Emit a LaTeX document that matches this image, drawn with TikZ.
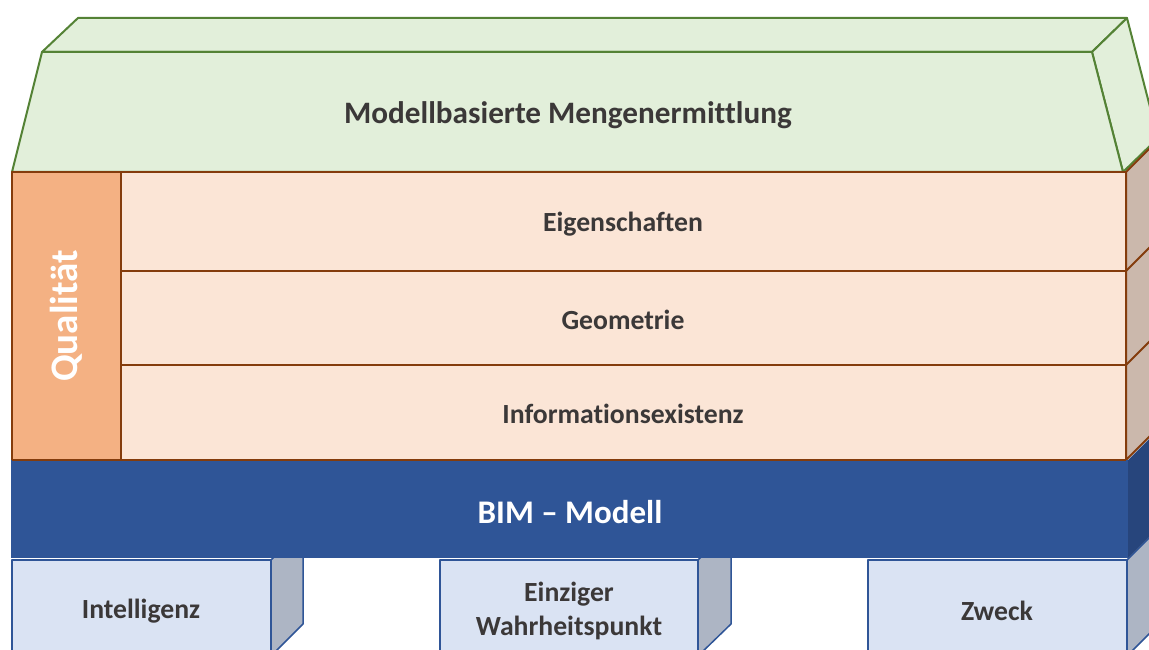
\documentclass[tikz,border=0pt]{standalone}
\usepackage{fontspec}
\setmainfont[Ligatures=NoCommon]{Carlito}
\definecolor{roofFill}{HTML}{E2EFDA}
\definecolor{roofLine}{HTML}{548235}
\definecolor{qualFill}{HTML}{F4B183}
\definecolor{layerFill}{HTML}{FBE5D6}
\definecolor{layerSide}{HTML}{CBB8AC}
\definecolor{layerLine}{HTML}{843C0C}
\definecolor{bimFill}{HTML}{2F5597}
\definecolor{bimSide}{HTML}{27457C}
\definecolor{pillarFill}{HTML}{DAE3F3}
\definecolor{pillarSide}{HTML}{ADB5C4}
\definecolor{labelGray}{HTML}{3B3838}
\begin{document}
\begin{tikzpicture}[x=1pt,y=-1pt,line join=round,
  roof/.style={fill=roofFill,draw=roofLine,line width=2pt},
  layer/.style={fill=layerFill,draw=layerLine,line width=2pt},
  layerface/.style={fill=layerSide,draw=layerLine,line width=2pt},
  qual/.style={fill=qualFill,draw=layerLine,line width=2pt},
  bim/.style={fill=bimFill,draw=none},
  bimface/.style={fill=bimSide,draw=none},
  pillar/.style={fill=pillarFill,draw=bimFill,line width=1.5pt},
  pillarface/.style={fill=pillarSide,draw=bimFill,line width=1.5pt},
  label/.style={font=\bfseries\fontsize{27.7}{34}\selectfont,text=labelGray,align=center,inner sep=0pt},
  title/.style={font=\bfseries\fontsize{31.2}{36}\selectfont,text=labelGray,inner sep=0pt},
  bimlabel/.style={font=\bfseries\fontsize{33}{38}\selectfont,text=white,inner sep=0pt},
  quallabel/.style={font=\bfseries\fontsize{39}{44}\selectfont,text=white,inner sep=0pt}]
\useasboundingbox (0,0) rectangle (1149,650);
\clip (0,0) rectangle (1149,650);

% roof: top face, right face, front face
\draw[roof] (78,18) -- (1127,18) -- (1092,52) -- (42,52) -- cycle;
\draw[roof] (1092,52) -- (1127,18) -- (1158,138) -- (1123,172) -- cycle;
\draw[roof] (42,52) -- (1092,52) -- (1123,172) -- (12,172) -- cycle;

% quality layers: right face with row edges, then the fronts
\draw[layerface] (1126,172) -- (1160,138) -- (1160,426) -- (1126,460) -- cycle;
\draw[layerLine,line width=2pt] (1126,271) -- (1160,237);
\draw[layerLine,line width=2pt] (1126,365) -- (1160,331);
\draw[layer] (121,172) rectangle (1126,271);
\draw[layer] (121,271) rectangle (1126,365);
\draw[layer] (121,365) rectangle (1126,460);
\draw[qual] (12,172) rectangle (121,460);

% pillars (drawn before the model bar, which hides their tops)
\draw[pillarface] (271,560) -- (303,528) -- (303,624) -- (271,656) -- cycle;
\draw[pillar] (12,560) rectangle (271,656);
\draw[pillarface] (698,560) -- (731,528) -- (731,624) -- (698,656) -- cycle;
\draw[pillar] (440,560) rectangle (698,656);
\draw[pillarface] (1127,560) -- (1161,526) -- (1161,622) -- (1127,656) -- cycle;
\draw[pillar] (868,560) rectangle (1127,656);

% BIM model bar
\fill[bimface] (1128,460) -- (1162,426) -- (1162,524) -- (1128,558) -- cycle;
\fill[bim] (11,460) rectangle (1128,558);
\draw[layerLine,line width=2pt] (12,460) -- (1126,460);

% texts
\node[title] (tMenge) at (568,115) {Modellbasierte Mengenermittlung};
\node[label] (tEigen) at (623,224) {Eigenschaften};
\node[label] (tGeo) at (623,320) {Geometrie};
\node[label] (tInfo) at (623,414) {Informationsexistenz};
\node[quallabel,rotate=90] (tQual) at (66,316) {Qualität};
\node[bimlabel] (tBim) at (570,512) {BIM – Modell};
\node[label] (tIntel) at (141,611) {Intelligenz};
\node[label] (tWahr) at (569,611) {Einziger\\Wahrheitspunkt};
\node[label] (tZweck) at (997,611) {Zweck};
\end{tikzpicture}
\end{document}
